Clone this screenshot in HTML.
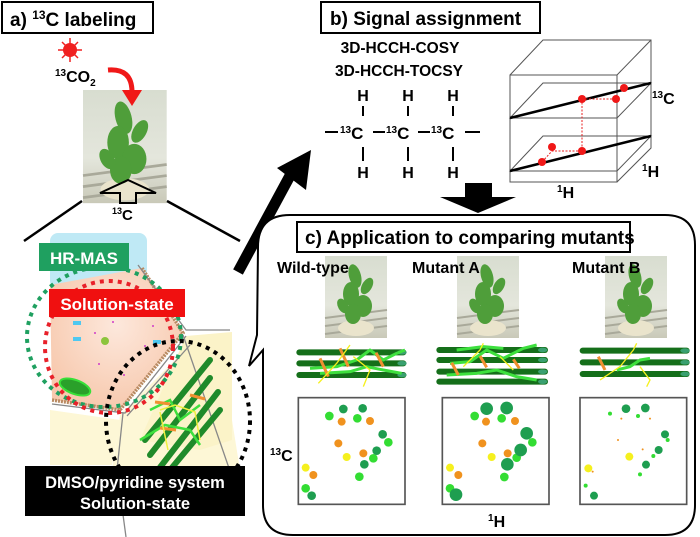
<!DOCTYPE html>
<html><head><meta charset="utf-8"><style>
html,body{margin:0;padding:0;background:#fff;}
svg{display:block;}
text{font-family:"Liberation Sans",Arial,sans-serif;font-weight:bold;}
</style></head><body>
<svg width="700" height="537" viewBox="0 0 700 537" xmlns="http://www.w3.org/2000/svg">
<defs>
<linearGradient id="ph" x1="0" y1="0" x2="0" y2="1">
<stop offset="0" stop-color="#d8ddd0"/><stop offset="0.6" stop-color="#e4e6dc"/><stop offset="1" stop-color="#c9c9b8"/>
</linearGradient>
<radialGradient id="peach" cx="0.5" cy="0.4" r="0.6"><stop offset="0" stop-color="#fde8dc"/><stop offset="1" stop-color="#f7c9ae"/></radialGradient>
<g id="plant">
<rect x="0" y="0" width="62" height="82" fill="url(#ph)"/>
<g stroke="#a9a99a" stroke-width="2"><line x1="0" y1="62" x2="62" y2="54"/><line x1="0" y1="70" x2="62" y2="62"/><line x1="0" y1="78" x2="62" y2="70"/></g>
<ellipse cx="31" cy="72" rx="18" ry="8" fill="#eae4cc"/>
<g fill="#4f9e3a"><ellipse cx="30" cy="20" rx="6" ry="12" transform="rotate(-15 30 20)"/><ellipse cx="26" cy="38" rx="8" ry="12"/><ellipse cx="38" cy="50" rx="9" ry="11"/><ellipse cx="28" cy="58" rx="8" ry="10"/><ellipse cx="42" cy="30" rx="5" ry="9" transform="rotate(30 42 30)"/><ellipse cx="18" cy="50" rx="5" ry="8" transform="rotate(-30 18 50)"/></g>
</g>
</defs>

<!-- a) header -->
<rect x="2" y="2" width="151" height="31" fill="#fff" stroke="#000" stroke-width="2"/>
<text x="10" y="26" font-size="19">a) <tspan font-size="12" dy="-7">13</tspan><tspan dy="7">C labeling</tspan></text>
<!-- photo -->
<use href="#plant" transform="translate(83,90) scale(1.35,1.38)"/>
<!-- sun -->
<g stroke="#f02020" stroke-width="1.5"><line x1="70" y1="38" x2="70" y2="62"/><line x1="58" y1="50" x2="82" y2="50"/><line x1="62" y1="42" x2="78" y2="58"/><line x1="62" y1="58" x2="78" y2="42"/></g>
<circle cx="70" cy="50" r="7" fill="#f02020"/>
<text x="55" y="82" font-size="16"><tspan font-size="10" dy="-6">13</tspan><tspan dy="6">CO</tspan><tspan font-size="10" dy="4">2</tspan></text>
<path d="M108,70 Q132,68 132,92" fill="none" stroke="#f01818" stroke-width="5"/>
<polygon points="122,90 142,90 132,106" fill="#f01818"/>
<polygon points="100,193 128,180 156,193 136,193 136,203 120,203 120,193" fill="none" stroke="#000" stroke-width="2"/>
<text x="112" y="220" font-size="15"><tspan font-size="9" dy="-6">13</tspan><tspan dy="6">C</tspan></text>
<line x1="82" y1="201" x2="24" y2="241" stroke="#000" stroke-width="2.5"/>
<line x1="167" y1="201" x2="240" y2="241" stroke="#000" stroke-width="2.5"/>

<!-- cell region -->
<polygon points="120,415 112,470 240,470 232,420 190,345" fill="#fdf7d6"/>
<polygon points="50,410 120,420 112,465 50,465" fill="#fdf7d6"/>
<polygon points="186,336 232,332 232,440 200,450 140,440" fill="#fbf3c8"/>
<rect x="50" y="233" width="97" height="56" rx="8" fill="#bfe9f5"/>
<polygon points="50,285 142,268 183,333 120,410 52,400" fill="url(#peach)"/>
<polyline points="142,268 183,333 120,410 52,400" fill="none" stroke="#b88a62" stroke-width="3.5" stroke-dasharray="2,1"/>
<g fill="none" stroke="#888" stroke-width="1.3">
<polyline points="138,265 186,330 230,330"/><polyline points="186,336 125,413 52,404"/><polyline points="123,413 117,470 126,537"/><polyline points="127,416 190,345"/><line x1="183" y1="335" x2="240" y2="500"/>
</g>
<g fill="#4fc8f0"><rect x="73" y="321" width="8" height="4"/><rect x="73" y="337" width="8" height="4"/><rect x="153" y="340" width="8" height="4"/></g>
<circle cx="105" cy="341" r="4" fill="#8cc43c"/>
<g fill="#d03cc8"><circle cx="113" cy="322" r="1"/><circle cx="95" cy="333" r="1"/><circle cx="153" cy="326" r="1"/><circle cx="145" cy="346" r="1"/><circle cx="99" cy="364" r="1"/><circle cx="124" cy="375" r="1"/></g>
<g fill="#2aa02a" stroke="#38e038" stroke-width="2"><ellipse cx="75" cy="387" rx="16" ry="7" transform="rotate(20 75 387)"/></g>
<g stroke="#1f8a2a" stroke-width="6" stroke-linecap="round"><line x1="145" y1="440" x2="210" y2="360"/><line x1="150" y1="455" x2="210" y2="378"/><line x1="158" y1="470" x2="218" y2="392"/><line x1="170" y1="470" x2="220" y2="410"/></g>
<g stroke="#3ee03e" stroke-width="2.5" fill="none"><polyline points="150,410 170,400 180,420 200,405"/><polyline points="140,440 165,425 190,430 200,445"/></g>
<g stroke="#f09030" stroke-width="3"><line x1="155" y1="402" x2="170" y2="404"/><line x1="190" y1="395" x2="205" y2="399"/><line x1="160" y1="428" x2="176" y2="430"/></g>
<g stroke="#f0f040" stroke-width="1.5" fill="none"><polyline points="160,410 175,405 195,412 200,440"/><line x1="160" y1="412" x2="168" y2="450"/></g>
<ellipse cx="104" cy="337" rx="77" ry="70" fill="none" stroke="#1fa060" stroke-width="4" stroke-dasharray="4,5"/>
<ellipse cx="109" cy="347" rx="64" ry="66" fill="none" stroke="#e8212a" stroke-width="4" stroke-dasharray="4,5"/>
<ellipse cx="178" cy="421" rx="72" ry="80" fill="none" stroke="#000" stroke-width="4" stroke-dasharray="4,5"/>
<rect x="39" y="243" width="90" height="28" fill="#1fa060"/>
<text x="84" y="264" font-size="17" fill="#fff" text-anchor="middle">HR-MAS</text>
<rect x="49" y="289" width="136" height="28" fill="#f01010"/>
<text x="117" y="310" font-size="17" fill="#fff" text-anchor="middle">Solution-state</text>
<rect x="25" y="466" width="220" height="50" fill="#000"/>
<text x="135" y="488" font-size="16.5" fill="#fff" text-anchor="middle">DMSO/pyridine  system</text>
<text x="135" y="509" font-size="16.5" fill="#fff" text-anchor="middle">Solution-state</text>

<!-- big diagonal arrow -->
<line x1="238" y1="272" x2="292" y2="172" stroke="#000" stroke-width="11"/>
<polygon points="277,168 311,150 306,190" fill="#000"/>

<!-- b) -->
<rect x="321" y="2" width="219" height="31" fill="#fff" stroke="#000" stroke-width="2"/>
<text x="330" y="25" font-size="19">b) Signal assignment</text>
<text x="400" y="53" font-size="15.5" text-anchor="middle">3D-HCCH-COSY</text>
<text x="399" y="76" font-size="15.5" text-anchor="middle">3D-HCCH-TOCSY</text>
<g font-size="16" text-anchor="middle">
<text x="363" y="101">H</text><text x="408" y="101">H</text><text x="453" y="101">H</text>
<text x="363" y="178">H</text><text x="408" y="178">H</text><text x="453" y="178">H</text>
</g>
<g stroke="#000" stroke-width="2">
<line x1="363" y1="106" x2="363" y2="116"/><line x1="408" y1="106" x2="408" y2="116"/><line x1="453" y1="106" x2="453" y2="116"/>
<line x1="363" y1="147" x2="363" y2="161"/><line x1="408" y1="147" x2="408" y2="161"/><line x1="453" y1="147" x2="453" y2="161"/>
<line x1="325" y1="132" x2="338" y2="132"/><line x1="373" y1="132" x2="385" y2="132"/><line x1="418" y1="132" x2="430" y2="132"/><line x1="465" y1="132" x2="480" y2="132"/>
</g>
<g font-size="17"><text x="340" y="139"><tspan font-size="10" dy="-6">13</tspan><tspan dy="6">C</tspan></text><text x="386" y="139"><tspan font-size="10" dy="-6">13</tspan><tspan dy="6">C</tspan></text><text x="431" y="139"><tspan font-size="10" dy="-6">13</tspan><tspan dy="6">C</tspan></text></g>
<!-- cube -->
<g fill="none" stroke="#555" stroke-width="1">
<rect x="510" y="75" width="107" height="107"/>
<polyline points="510,75 543,40 651,40 651,148 617,182"/><line x1="617" y1="75" x2="651" y2="40"/>
<polygon points="510,118 543,83 651,83 617,118"/>
<polygon points="510,171 543,136 651,136 617,171"/>
</g>
<line x1="510" y1="118" x2="651" y2="83" stroke="#000" stroke-width="2.5"/>
<line x1="510" y1="171" x2="651" y2="136" stroke="#000" stroke-width="2.5"/>
<g stroke="#e82020" stroke-width="1" stroke-dasharray="2,1.5" fill="none"><polyline points="582,99 582,151 552,151 542,162"/><line x1="582" y1="99" x2="616" y2="99"/></g>
<g fill="#f01818"><circle cx="582" cy="99" r="4"/><circle cx="616" cy="99" r="4"/><circle cx="624" cy="88" r="4"/><circle cx="582" cy="151" r="4"/><circle cx="552" cy="147" r="4"/><circle cx="542" cy="162" r="4"/></g>
<g font-size="16"><text x="652" y="104"><tspan font-size="10" dy="-6">13</tspan><tspan dy="6">C</tspan></text><text x="642" y="177"><tspan font-size="10" dy="-6">1</tspan><tspan dy="6">H</tspan></text><text x="557" y="198"><tspan font-size="10" dy="-6">1</tspan><tspan dy="6">H</tspan></text></g>
<rect x="465" y="183" width="27" height="14" fill="#000"/>
<polygon points="440,197 516,197 478,213" fill="#000"/>

<!-- c) box -->
<path d="M290,215 L665,215 Q695,215 695,245 L695,505 Q695,535 665,535 L293,535 Q263,535 263,505 L263,350 L249,366 L257,335 L258,247 Q258,215 290,215 Z" fill="#fff" stroke="#000" stroke-width="2"/>
<use href="#plant" transform="translate(325,256)"/>
<use href="#plant" transform="translate(457,256)"/>
<use href="#plant" transform="translate(605,256)"/>
<rect x="297" y="222" width="333" height="30" fill="#fff" stroke="#000" stroke-width="2"/>
<text x="305" y="244" font-size="19">c) Application to comparing mutants</text>
<g font-size="16"><text x="277" y="273">Wild-type</text><text x="412" y="273">Mutant A</text><text x="572" y="273">Mutant B</text></g>

<g transform="translate(270,330) scale(0.33333)">
<g stroke="#156f1a" stroke-width="18" stroke-linecap="round">
<line x1="88" y1="67" x2="400" y2="67"/><line x1="88" y1="100" x2="400" y2="100"/><line x1="88" y1="135" x2="400" y2="135"/>
<line x1="508" y1="60" x2="825" y2="60"/><line x1="508" y1="90" x2="825" y2="90"/><line x1="508" y1="125" x2="825" y2="125"/><line x1="508" y1="155" x2="825" y2="155"/>
<line x1="938" y1="62" x2="1250" y2="62"/><line x1="938" y1="97" x2="1250" y2="97"/><line x1="938" y1="132" x2="1250" y2="132"/>
</g>
<g fill="#3aa070"><ellipse cx="396" cy="67" rx="14" ry="7"/><ellipse cx="396" cy="100" rx="14" ry="7"/><ellipse cx="396" cy="135" rx="14" ry="7"/>
<ellipse cx="818" cy="60" rx="14" ry="7"/><ellipse cx="818" cy="90" rx="14" ry="7"/><ellipse cx="818" cy="125" rx="14" ry="7"/><ellipse cx="818" cy="155" rx="14" ry="7"/>
<ellipse cx="1245" cy="62" rx="14" ry="7"/><ellipse cx="1245" cy="97" rx="14" ry="7"/><ellipse cx="1245" cy="132" rx="14" ry="7"/></g>
<g stroke="#3ee03e" stroke-width="9" fill="none" stroke-linejoin="round">
<polyline points="120,115 200,110 260,90 300,60 340,90 380,70 405,60"/><polyline points="150,130 240,125 290,110 340,120 395,130"/>
<polyline points="540,100 600,95 650,60 700,85 760,55 800,45"/><polyline points="530,135 620,130 680,120 740,140 800,150"/><polyline points="560,60 640,50 700,55"/>
<polyline points="1040,120 1080,110 1110,90 1140,85"/>
</g>
<g stroke="#f09030" stroke-width="9">
<line x1="150" y1="85" x2="175" y2="140"/><line x1="210" y1="55" x2="235" y2="110"/><line x1="318" y1="68" x2="340" y2="110"/>
<line x1="545" y1="98" x2="565" y2="135"/><line x1="630" y1="78" x2="650" y2="112"/><line x1="730" y1="88" x2="748" y2="115"/>
<line x1="985" y1="80" x2="1005" y2="120"/>
</g>
<g stroke="#f5f01e" stroke-width="4" fill="none">
<polyline points="145,160 200,100 240,45"/><polyline points="250,80 300,120 280,170"/>
<polyline points="580,110 630,60 640,40"/><polyline points="690,80 730,120"/>
<polyline points="990,150 1050,110 1090,60 1100,40"/><polyline points="1110,110 1140,150 1130,170"/>
</g>
<g fill="none" stroke="#555" stroke-width="5">
<rect x="85" y="203" width="320" height="320"/><rect x="517" y="203" width="320" height="320"/><rect x="930" y="203" width="320" height="320"/>
</g>
<g fill="#33dd33">
<circle cx="178" cy="258" r="13"/><circle cx="262" cy="265" r="13"/><circle cx="355" cy="337" r="13"/><circle cx="310" cy="385" r="13"/><circle cx="268" cy="440" r="13"/><circle cx="107" cy="475" r="13"/>
<circle cx="614" cy="258" r="13"/><circle cx="695" cy="265" r="13"/><circle cx="787" cy="337" r="13"/><circle cx="740" cy="383" r="13"/><circle cx="703" cy="441" r="13"/><circle cx="540" cy="475" r="13"/>
<circle cx="1020" cy="251" r="6"/><circle cx="1104" cy="258" r="6"/><circle cx="1193" cy="330" r="6"/><circle cx="1150" cy="378" r="6"/><circle cx="1110" cy="433" r="6"/><circle cx="947" cy="467" r="6"/>
</g>
<g fill="#1e9e50">
<circle cx="220" cy="237" r="13"/><circle cx="278" cy="235" r="13"/><circle cx="338" cy="313" r="13"/><circle cx="320" cy="362" r="13"/><circle cx="283" cy="403" r="13"/><circle cx="125" cy="497" r="13"/>
<circle cx="650" cy="236" r="19"/><circle cx="710" cy="234" r="19"/><circle cx="770" cy="310" r="19"/><circle cx="752" cy="360" r="19"/><circle cx="712" cy="403" r="19"/><circle cx="558" cy="494" r="19"/>
<circle cx="1068" cy="236" r="13"/><circle cx="1126" cy="234" r="13"/><circle cx="1185" cy="313" r="12"/><circle cx="1166" cy="360" r="12"/><circle cx="1128" cy="404" r="12"/><circle cx="972" cy="497" r="12"/>
</g>
<g fill="#f0921e">
<circle cx="215" cy="275" r="12"/><circle cx="300" cy="273" r="12"/><circle cx="205" cy="340" r="12"/><circle cx="280" cy="370" r="12"/><circle cx="130" cy="435" r="12"/>
<circle cx="648" cy="275" r="12"/><circle cx="735" cy="273" r="12"/><circle cx="637" cy="340" r="12"/><circle cx="713" cy="370" r="12"/><circle cx="565" cy="435" r="12"/>
<circle cx="1054" cy="266" r="3"/><circle cx="1140" cy="266" r="3"/><circle cx="1044" cy="330" r="3"/><circle cx="1118" cy="358" r="3"/><circle cx="968" cy="425" r="3"/>
</g>
<g fill="#f5f01e">
<circle cx="230" cy="381" r="12"/><circle cx="107" cy="413" r="12"/>
<circle cx="665" cy="381" r="12"/><circle cx="540" cy="413" r="12"/>
<circle cx="1078" cy="380" r="12"/><circle cx="955" cy="415" r="12"/>
</g>
</g>
<text x="270" y="461" font-size="16"><tspan font-size="10" dy="-6">13</tspan><tspan dy="6">C</tspan></text>
<text x="488" y="527" font-size="16"><tspan font-size="10" dy="-6">1</tspan><tspan dy="6">H</tspan></text>
</svg>
</body></html>
